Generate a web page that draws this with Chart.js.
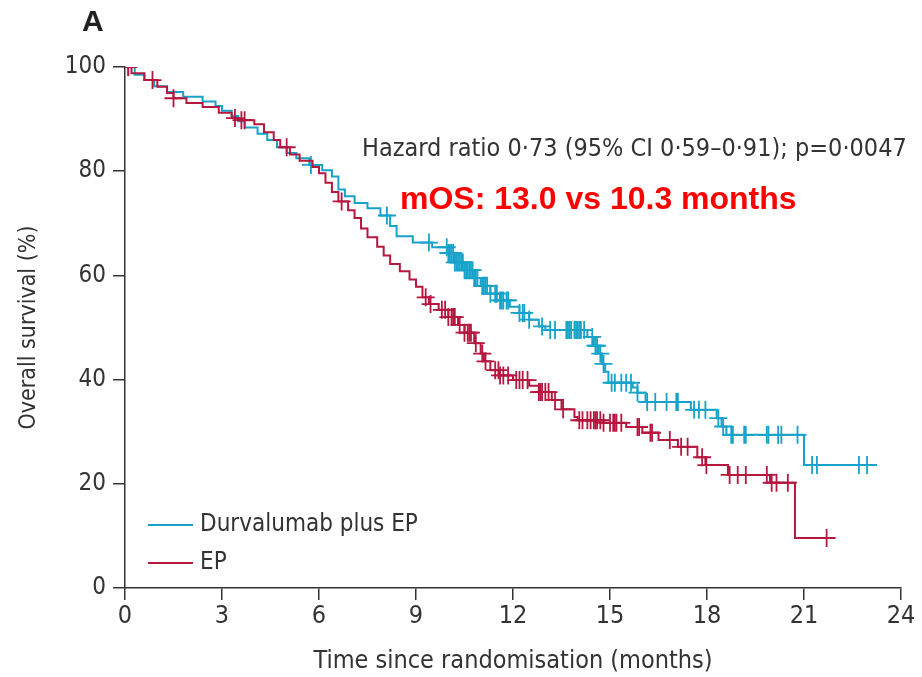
<!DOCTYPE html>
<html>
<head>
<meta charset="utf-8">
<script src="https://cdn.jsdelivr.net/npm/chart.js@4.4.1/dist/chart.umd.min.js"></script>
<style>
  html, body { margin: 0; padding: 0; background: #fff; }
</style>
</head>
<body>
<canvas id="kmChart" width="922" height="677"></canvas>
<script>
// Kaplan-Meier curves (months, % alive)
const xTicks = [0, 3, 6, 9, 12, 15, 18, 21, 24];
const yTicks = [0, 20, 40, 60, 80, 100];

const durTimes = [0, 0.3, 0.6, 0.9, 1.3, 1.8, 2.4, 2.8, 3.0, 3.3, 3.5, 3.7, 4.1, 4.4, 4.7, 5.0, 5.3, 5.7,
  6.1, 6.4, 6.6, 6.8, 7.1, 7.5, 7.9, 8.2, 8.4, 8.9, 9.5, 10.0, 10.2, 10.5, 10.8, 11.0, 11.3, 11.6, 11.9,
  12.2, 12.5, 12.8, 13.0, 14.3, 14.5, 14.65, 14.75, 14.85, 14.95, 15.7, 15.85, 16.1, 17.5, 18.3, 18.45,
  18.6, 21.0, 23.26];
const durSurv = [100, 98.5, 97.5, 96.3, 95.2, 94.3, 93.4, 92.5, 91.6, 90.6, 89.6, 88.4, 87.2, 86.0, 84.6,
  83.5, 82.5, 81.2, 80.2, 79.0, 76.5, 75.2, 73.9, 72.9, 71.5, 69.5, 67.5, 66.3, 65.4, 64.3, 62.5, 61.0,
  59.5, 58.0, 56.5, 55.2, 54.0, 52.8, 51.5, 50.2, 49.5, 48.2, 46.5, 45.0, 43.0, 41.5, 39.4, 38.5, 37.5,
  35.7, 34.2, 32.6, 31.0, 29.4, 23.6, 23.6];
const durCensor = [0.1, 5.75, 8.1, 9.4, 9.95, 10.0, 10.05, 10.1, 10.15, 10.2, 10.25, 10.3, 10.35, 10.4,
  10.45, 10.5, 10.55, 10.6, 10.65, 10.7, 10.75, 10.8, 10.85, 10.9, 11.05, 11.1, 11.15, 11.2, 11.3, 11.45,
  11.5, 11.6, 11.65, 11.7, 11.8, 11.85, 12.2, 12.3, 12.35, 12.5, 12.9, 13.15, 13.3, 13.65, 13.7, 13.75,
  13.8, 13.9, 13.95, 14.0, 14.05, 14.1, 14.2, 14.45, 14.55, 14.6, 14.7, 14.8, 15.05, 15.15, 15.35, 15.5,
  15.65, 15.85, 16.15, 16.4, 16.75, 17.05, 17.1, 17.6, 17.75, 17.95, 18.35, 18.5, 18.75, 18.8, 19.15,
  19.2, 19.85, 19.9, 20.2, 20.3, 20.8, 21.25, 21.4, 22.7, 22.95];

const epTimes = [0, 0.2, 0.6, 1.0, 1.3, 1.5, 1.9, 2.4, 2.9, 3.3, 3.5, 4.0, 4.3, 4.6, 4.8, 5.1, 5.4, 5.8,
  6.0, 6.2, 6.4, 6.6, 6.9, 7.1, 7.3, 7.5, 7.8, 8.0, 8.2, 8.5, 8.8, 9.0, 9.2, 9.4, 9.7, 10.0, 10.3, 10.5,
  10.8, 11.0, 11.1, 11.3, 11.6, 12.0, 12.5, 12.8, 13.2, 13.5, 13.9, 14.0, 14.8, 15.5, 16.0, 16.5, 17.1,
  17.7, 17.95, 18.65, 19.95, 20.72, 21.96];
const epSurv = [100, 98.8, 97.5, 96.2, 95.0, 94.0, 93.1, 92.3, 91.2, 90.2, 89.8, 89.0, 87.5, 86.0, 84.6,
  83.2, 82.0, 80.8, 79.6, 77.8, 76.0, 74.2, 72.5, 71.0, 69.0, 67.3, 65.5, 63.8, 62.2, 60.8, 59.2, 57.8,
  55.8, 54.5, 53.4, 52.0, 50.5, 49.0, 47.0, 45.0, 43.5, 41.8, 40.8, 39.9, 38.8, 37.6, 36.1, 34.3, 32.8,
  32.2, 31.7, 30.9, 29.8, 28.4, 27.1, 25.1, 23.6, 21.7, 20.2, 9.6, 9.6];
const epCensor = [0.1, 0.85, 1.5, 3.4, 3.6, 3.7, 5.0, 6.7, 9.3, 9.45, 9.8, 9.9, 10.0, 10.1, 10.15, 10.2,
  10.35, 10.5, 10.6, 10.65, 10.7, 10.85, 11.05, 11.15, 11.45, 11.55, 11.6, 11.7, 11.85, 12.1, 12.2, 12.3,
  12.45, 12.8, 12.85, 12.9, 13.0, 13.1, 13.3, 13.55, 14.05, 14.15, 14.3, 14.4, 14.5, 14.55, 14.6, 14.7,
  14.8, 15.0, 15.1, 15.15, 15.2, 15.35, 15.85, 15.9, 16.25, 16.3, 16.85, 17.2, 17.4, 17.85, 17.98, 18.7,
  18.95, 19.2, 19.85, 20.0, 20.15, 20.5, 21.7];

const durLabel = 'Durvalumab plus EP';
const epLabel = 'EP';
const hrText = 'Hazard ratio 0·73 (95% CI 0·59–0·91); p=0·0047';
const mosText = 'mOS: 13.0 vs 10.3 months';

const blue = '#17a3c9';
const red = '#b5173f';
const ink = '#333333';
const font = "'Liberation Sans Narrow', 'DejaVu Sans Condensed', 'Liberation Sans', sans-serif";

// survival value of a step curve at time t (for placing censor ticks on it)
function survAt(times, surv, t) {
  let v = surv[0];
  for (let i = 0; i < times.length; i++) {
    if (times[i] <= t) v = surv[i];
  }
  return v;
}

function curve(times, surv) {
  return times.map((t, i) => ({x: t, y: surv[i]}));
}

function marks(censor, times, surv) {
  return censor.map(t => ({x: t, y: survAt(times, surv, t)}));
}

const textPlugin = {
  id: 'textPlugin',
  afterDraw(chart) {
    const ctx = chart.ctx;
    const x = chart.scales.x;
    ctx.save();
    ctx.textBaseline = 'middle';

    ctx.fillStyle = '#222';
    ctx.font = "bold 30px 'Liberation Sans', sans-serif";
    ctx.textAlign = 'left';
    ctx.fillText('A', 82, 23);

    ctx.fillStyle = ink;
    ctx.font = '25px ' + font;
    ctx.fillText(hrText, 362, 149);

    ctx.fillStyle = '#ff0000';
    ctx.font = "bold 32px 'Liberation Sans', sans-serif";
    ctx.fillText(mosText, 400, 200);

    // legend
    const lx = x.left + 23;
    ctx.lineWidth = 2;
    [[durLabel, blue, 525], [epLabel, red, 563]].forEach(([txt, col, ly]) => {
      ctx.strokeStyle = col;
      ctx.beginPath();
      ctx.moveTo(lx, ly);
      ctx.lineTo(lx + 45, ly);
      ctx.stroke();
      ctx.fillStyle = ink;
      ctx.font = '24px ' + font;
      ctx.fillText(txt, lx + 52, ly);
    });
    ctx.restore();
  }
};

const config = {
  type: 'line',
  data: {
    datasets: [
      {
        label: epLabel,
        data: curve(epTimes, epSurv),
        borderColor: red,
        borderWidth: 2,
        stepped: true,
        pointRadius: 0,
        fill: false
      },
      {
        label: epLabel + ' censored',
        type: 'scatter',
        data: marks(epCensor, epTimes, epSurv),
        pointStyle: 'cross',
        pointRadius: 9,
        borderColor: red,
        backgroundColor: red,
        borderWidth: 1.8,
        showLine: false
      },
      {
        label: durLabel,
        data: curve(durTimes, durSurv),
        borderColor: blue,
        borderWidth: 2,
        stepped: true,
        pointRadius: 0,
        fill: false
      },
      {
        label: durLabel + ' censored',
        type: 'scatter',
        data: marks(durCensor, durTimes, durSurv),
        pointStyle: 'cross',
        pointRadius: 9,
        borderColor: blue,
        backgroundColor: blue,
        borderWidth: 1.8,
        showLine: false
      }
    ]
  },
  options: {
    responsive: false,
    animation: false,
    layout: {padding: {left: 0, right: 21, top: 67, bottom: 0}},
    plugins: {
      legend: {display: false},
      tooltip: {enabled: false}
    },
    scales: {
      x: {
        type: 'linear',
        min: 0,
        max: 24,
        afterBuildTicks: s => { s.ticks = xTicks.map(v => ({value: v})); },
        afterFit: s => { s.height = 89; },
        grid: {drawOnChartArea: false, drawTicks: true, tickLength: 12, color: ink, lineWidth: 1.5},
        border: {display: true, color: ink, width: 1.5},
        ticks: {color: ink, font: {family: font, size: 25}, padding: 1, maxRotation: 0},
        title: {display: true, text: 'Time since randomisation (months)', color: ink,
          font: {family: font, size: 25}, padding: {top: 0, bottom: 1}}
      },
      y: {
        type: 'linear',
        min: 0,
        max: 100,
        afterBuildTicks: s => { s.ticks = yTicks.map(v => ({value: v})); },
        afterFit: s => { s.width = 125; },
        grid: {drawOnChartArea: false, drawTicks: true, tickLength: 12, color: ink, lineWidth: 1.5},
        border: {display: true, color: ink, width: 1.5},
        ticks: {color: ink, font: {family: font, size: 24}, padding: 7},
        title: {display: true, text: 'Overall survival (%)', color: ink,
          font: {family: font, size: 23}, padding: {top: 15, bottom: 0}}
      }
    }
  },
  plugins: [textPlugin]
};

new Chart(document.getElementById('kmChart').getContext('2d'), config);
</script>
</body>
</html>
